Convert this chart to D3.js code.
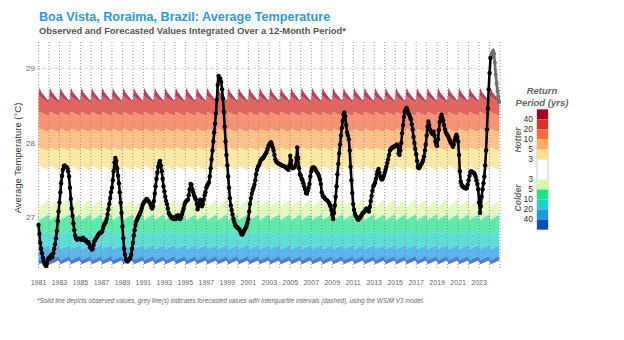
<!DOCTYPE html>
<html>
<head>
<meta charset="utf-8">
<script src="https://cdn.jsdelivr.net/npm/d3@7.9.0/dist/d3.min.js"></script>
<style>
  body { margin: 0; background: #fff; }
  svg { display: block; font-family: "Liberation Sans", Arial, sans-serif; }
</style>
</head>
<body>
<svg id="chart" width="624" height="340"></svg>
<script>
// 12-month integrated average temperature (deg C), one value per month from Jan 1981
const firstYear = 1981;
const observed = [
  26.90, 26.78, 26.66, 26.58, 26.52, 26.46, 26.41, 26.38, 26.36, 26.35, 26.39, 26.44, // 1981
  26.46, 26.45, 26.48, 26.50, 26.47, 26.52, 26.58, 26.64, 26.72, 26.82, 26.95, 27.08, // 1982
  27.20, 27.34, 27.46, 27.56, 27.64, 27.69, 27.70, 27.68, 27.68, 27.66, 27.62, 27.55, // 1983
  27.40, 27.25, 27.12, 27.02, 26.92, 26.83, 26.76, 26.72, 26.70, 26.71, 26.72, 26.71, // 1984
  26.71, 26.70, 26.72, 26.73, 26.71, 26.69, 26.70, 26.68, 26.66, 26.67, 26.64, 26.60, // 1985
  26.60, 26.57, 26.58, 26.63, 26.68, 26.70, 26.72, 26.74, 26.76, 26.78, 26.79, 26.80, // 1986
  26.80, 26.82, 26.86, 26.90, 26.92, 26.94, 26.98, 27.04, 27.11, 27.18, 27.26, 27.34, // 1987
  27.40, 27.50, 27.62, 27.74, 27.80, 27.76, 27.66, 27.56, 27.46, 27.34, 27.20, 27.06, // 1988
  26.88, 26.72, 26.58, 26.50, 26.44, 26.42, 26.41, 26.43, 26.44, 26.46, 26.50, 26.58, // 1989
  26.66, 26.76, 26.83, 26.90, 26.95, 26.98, 27.00, 27.03, 27.05, 27.08, 27.12, 27.16, // 1990
  27.19, 27.21, 27.22, 27.24, 27.25, 27.23, 27.22, 27.20, 27.18, 27.14, 27.12, 27.15, // 1991
  27.22, 27.32, 27.42, 27.52, 27.60, 27.68, 27.73, 27.76, 27.70, 27.62, 27.52, 27.42, // 1992
  27.35, 27.28, 27.22, 27.18, 27.12, 27.06, 27.04, 27.02, 27.00, 26.99, 27.00, 26.98, // 1993
  27.00, 26.98, 27.02, 27.00, 27.03, 26.99, 26.98, 27.00, 27.04, 27.08, 27.12, 27.17, // 1994
  27.20, 27.22, 27.23, 27.24, 27.30, 27.38, 27.45, 27.44, 27.38, 27.34, 27.30, 27.27, // 1995
  27.24, 27.18, 27.11, 27.15, 27.20, 27.24, 27.20, 27.15, 27.18, 27.24, 27.30, 27.34, // 1996
  27.40, 27.43, 27.45, 27.47, 27.55, 27.66, 27.78, 27.90, 28.02, 28.14, 28.26, 28.40, // 1997
  28.58, 28.78, 28.90, 28.88, 28.86, 28.82, 28.72, 28.60, 28.42, 28.22, 28.02, 27.84, // 1998
  27.70, 27.55, 27.40, 27.26, 27.16, 27.10, 27.04, 26.98, 26.94, 26.90, 26.88, 26.87, // 1999
  26.86, 26.85, 26.84, 26.81, 26.78, 26.77, 26.79, 26.82, 26.84, 26.86, 26.89, 26.93, // 2000
  26.98, 27.08, 27.18, 27.26, 27.32, 27.37, 27.40, 27.44, 27.50, 27.58, 27.64, 27.68, // 2001
  27.70, 27.73, 27.76, 27.78, 27.79, 27.80, 27.82, 27.84, 27.86, 27.88, 27.92, 27.96, // 2002
  27.98, 28.00, 28.01, 27.98, 27.94, 27.90, 27.84, 27.78, 27.75, 27.74, 27.73, 27.72, // 2003
  27.72, 27.71, 27.70, 27.70, 27.69, 27.69, 27.68, 27.67, 27.66, 27.65, 27.64, 27.70, // 2004
  27.83, 27.76, 27.68, 27.66, 27.67, 27.68, 27.70, 27.80, 27.94, 27.80, 27.66, 27.58, // 2005
  27.56, 27.52, 27.50, 27.46, 27.42, 27.38, 27.33, 27.32, 27.36, 27.40, 27.45, 27.55, // 2006
  27.62, 27.66, 27.67, 27.67, 27.66, 27.64, 27.62, 27.60, 27.58, 27.55, 27.51, 27.45, // 2007
  27.34, 27.30, 27.28, 27.27, 27.25, 27.24, 27.23, 27.22, 27.20, 27.18, 27.15, 27.10, // 2008
  27.04, 26.98, 27.06, 27.16, 27.28, 27.42, 27.58, 27.72, 27.86, 27.98, 28.10, 28.20, // 2009
  28.30, 28.38, 28.41, 28.36, 28.24, 28.14, 28.10, 28.05, 27.90, 27.68, 27.50, 27.33, // 2010
  27.18, 27.10, 27.05, 27.02, 27.00, 26.98, 26.97, 26.99, 27.00, 27.02, 27.04, 27.06, // 2011
  27.07, 27.08, 27.10, 27.12, 27.11, 27.10, 27.08, 27.14, 27.22, 27.29, 27.36, 27.42, // 2012
  27.44, 27.47, 27.52, 27.58, 27.62, 27.65, 27.60, 27.55, 27.52, 27.51, 27.53, 27.56, // 2013
  27.60, 27.64, 27.68, 27.73, 27.78, 27.84, 27.90, 27.92, 27.93, 27.94, 27.95, 27.95, // 2014
  27.96, 27.97, 27.98, 27.96, 27.86, 27.84, 27.90, 28.00, 28.13, 28.24, 28.35, 28.42, // 2015
  28.45, 28.47, 28.44, 28.40, 28.38, 28.35, 28.32, 28.25, 28.18, 28.08, 28.00, 27.92, // 2016
  27.85, 27.76, 27.68, 27.66, 27.67, 27.70, 27.72, 27.74, 27.77, 27.82, 27.90, 27.98, // 2017
  28.10, 28.22, 28.29, 28.24, 28.18, 28.15, 28.13, 28.12, 28.15, 28.10, 28.02, 27.98, // 2018
  27.96, 28.05, 28.17, 28.28, 28.34, 28.38, 28.34, 28.30, 28.24, 28.18, 28.14, 28.12, // 2019
  28.10, 28.08, 28.05, 28.02, 28.00, 27.98, 27.95, 27.98, 28.04, 28.08, 28.11, 28.08, // 2020
  28.02, 27.84, 27.62, 27.48, 27.44, 27.42, 27.41, 27.40, 27.40, 27.39, 27.40, 27.44, // 2021
  27.50, 27.56, 27.61, 27.62, 27.61, 27.60, 27.60, 27.58, 27.55, 27.50, 27.45, 27.38, // 2022
  27.20, 27.06, 27.15, 27.28, 27.38, 27.46, 27.55, 27.70, 27.90, 28.18, 28.46, 28.72, // 2023
  28.94, 29.14                                                                        // 2024
];

// forecast from Feb 2024 (median and interquartile range)
const forecastStart = new Date(2024, 1, 1);
const forecast     = [29.14, 29.18, 29.21, 29.23, 29.20, 29.08, 28.92, 28.80, 28.70, 28.62, 28.55];
const forecastHigh = [29.14, 29.21, 29.25, 29.27, 29.25, 29.14, 28.99, 28.88, 28.79, 28.72, 28.66];
const forecastLow  = [29.14, 29.15, 29.17, 29.19, 29.15, 29.02, 28.85, 28.72, 28.61, 28.52, 28.45];

// return-period thresholds by calendar month, Jan..Dec
const hotTop  = [28.60, 28.74, 28.72, 28.69, 28.67, 28.66, 28.64, 28.63, 28.61, 28.60, 28.58, 28.57];
const hot40   = [28.56, 28.63, 28.62, 28.61, 28.60, 28.59, 28.58, 28.57, 28.57, 28.56, 28.55, 28.55];
const hot20   = [28.38, 28.42, 28.42, 28.41, 28.40, 28.40, 28.39, 28.39, 28.38, 28.38, 28.37, 28.37];
const hot10   = [28.16, 28.19, 28.19, 28.18, 28.18, 28.17, 28.17, 28.16, 28.16, 28.16, 28.15, 28.15];
const hot5    = [27.91, 27.94, 27.94, 27.93, 27.93, 27.92, 27.92, 27.91, 27.91, 27.91, 27.90, 27.90];
const hot3    = [27.64, 27.70, 27.69, 27.68, 27.68, 27.67, 27.66, 27.66, 27.65, 27.64, 27.64, 27.63];
const cold3   = [27.22, 27.13, 27.14, 27.15, 27.17, 27.18, 27.19, 27.20, 27.21, 27.22, 27.23, 27.24];
const cold5   = [27.03, 26.96, 26.97, 26.98, 26.99, 26.99, 27.00, 27.01, 27.02, 27.02, 27.03, 27.04];
const cold10  = [26.82, 26.76, 26.77, 26.77, 26.78, 26.79, 26.79, 26.80, 26.81, 26.81, 26.82, 26.83];
const cold20  = [26.62, 26.57, 26.58, 26.58, 26.59, 26.59, 26.60, 26.60, 26.61, 26.61, 26.62, 26.63];
const cold40  = [26.47, 26.43, 26.43, 26.44, 26.44, 26.45, 26.45, 26.46, 26.46, 26.47, 26.47, 26.48];
const coldBot = [26.41, 26.37, 26.38, 26.38, 26.39, 26.39, 26.40, 26.40, 26.41, 26.41, 26.42, 26.42];

const hotColors  = ['#a50026', '#d73027', '#f46d43', '#fdae61', '#fee08b'];
const coldColors = ['#d9f7a8', '#1ee38a', '#1dd3c6', '#1a98e0', '#0b4bc0'];
const hotLabels  = ['40', '20', '10', '5', '3'];
const coldLabels = ['3', '5', '10', '20', '40'];
const yTicks = [27, 28, 29];

const svg = d3.select('#chart');
svg.append('rect').attr('width', 624).attr('height', 340).attr('fill', '#fff');

const x = d3.scaleTime()
  .domain([new Date(1981, 0, 1), new Date(2025, 0, 1)])
  .range([38.5, 500.1]);
const y = d3.scaleLinear().domain([26.3, 29.35]).range([269.65, 42.4]);

const months = d3.timeMonths(new Date(1981, 0, 1), new Date(2025, 0, 1));

// ---- return-period bands, repeated for every year ----
const area = d3.area()
  .x(d => x(d.date))
  .y0(d => y(d.lo))
  .y1(d => y(d.hi));

function band(hi, lo) {
  return months.map(date => ({ date, hi: hi[date.getMonth()], lo: lo[date.getMonth()] }));
}

const hotEdges = [hotTop, hot40, hot20, hot10, hot5, hot3];
const coldEdges = [cold3, cold5, cold10, cold20, cold40, coldBot];
const bands = svg.append('g').attr('class', 'bands');
hotColors.forEach((c, i) => {
  bands.append('path').attr('d', area(band(hotEdges[i], hotEdges[i + 1])))
    .attr('fill', c).attr('fill-opacity', 0.75);
});
coldColors.forEach((c, i) => {
  bands.append('path').attr('d', area(band(coldEdges[i], coldEdges[i + 1])))
    .attr('fill', c).attr('fill-opacity', 0.72);
});

// ---- grid ----
const grid = svg.append('g');
yTicks.forEach(t => {
  grid.append('line')
    .attr('x1', 37).attr('x2', 500).attr('y1', y(t)).attr('y2', y(t))
    .attr('stroke', '#d0d0d0').attr('stroke-width', 0.8).attr('stroke-dasharray', '3,3');
});
d3.timeYears(new Date(1981, 0, 1), new Date(2025, 0, 2)).forEach(d => {
  grid.append('line')
    .attr('x1', x(d)).attr('x2', x(d)).attr('y1', 42).attr('y2', 269)
    .attr('stroke', '#8a8a8a').attr('stroke-width', 0.9).attr('stroke-dasharray', '1,2');
});

// ---- axes ----
const yAxis = svg.append('g').attr('font-size', 8).attr('fill', '#666');
yTicks.forEach(t => {
  yAxis.append('text').attr('x', 35).attr('y', y(t)).attr('dy', '0.35em')
    .attr('text-anchor', 'end').text(t);
});
const xAxis = svg.append('g').attr('font-size', 7).attr('fill', '#666');
d3.timeYears(new Date(1981, 0, 1), new Date(2024, 0, 1), 2).forEach(d => {
  xAxis.append('text').attr('x', x(d)).attr('y', 285)
    .attr('text-anchor', 'middle').text(d.getFullYear());
});

svg.append('text')
  .attr('transform', 'translate(21,158) rotate(-90)')
  .attr('text-anchor', 'middle').attr('font-size', 9.5).attr('fill', '#333')
  .text('Average Temperature (°C)');

// ---- forecast ----
const fcDates = forecast.map((_, i) => d3.timeMonth.offset(forecastStart, i));
const line = d3.line().x(d => x(d[0])).y(d => y(d[1]));
const fc = svg.append('g');
[forecastHigh, forecastLow].forEach(s => {
  fc.append('path').attr('d', line(s.map((v, i) => [fcDates[i], v])))
    .attr('fill', 'none').attr('stroke', '#7a7f86').attr('stroke-width', 1.4)
    .attr('stroke-dasharray', '2,1.5');
});
const fcPts = forecast.map((v, i) => [fcDates[i], v]);
fc.append('path').attr('d', line(fcPts))
  .attr('fill', 'none').attr('stroke', '#6b7078').attr('stroke-width', 2.6);
fc.selectAll('circle').data(fcPts).join('circle')
  .attr('cx', d => x(d[0])).attr('cy', d => y(d[1])).attr('r', 2).attr('fill', '#6b7078');

// ---- observed ----
const obsPts = observed.map((v, i) => [new Date(firstYear, i, 1), v]);
const obs = svg.append('g');
obs.append('path').attr('d', line(obsPts))
  .attr('fill', 'none').attr('stroke', '#000').attr('stroke-width', 2.6)
  .attr('stroke-linejoin', 'round');
obs.selectAll('circle').data(obsPts).join('circle')
  .attr('cx', d => x(d[0])).attr('cy', d => y(d[1])).attr('r', 2.2).attr('fill', '#000');

// ---- titles ----
svg.append('text').attr('x', 39).attr('y', 21)
  .attr('font-size', 12.6).attr('font-weight', 'bold').attr('fill', '#2d9bd5')
  .text('Boa Vista, Roraima, Brazil: Average Temperature');
svg.append('text').attr('x', 39).attr('y', 33.5)
  .attr('font-size', 9.4).attr('font-weight', 'bold').attr('fill', '#555')
  .text('Observed and Forecasted Values Integrated Over a 12-Month Period*');
svg.append('text').attr('x', 37).attr('y', 303)
  .attr('font-size', 6.3).attr('font-style', 'italic').attr('fill', '#666')
  .text('*Solid line depicts observed values, grey line(s) indicates forecasted values with interquartile intervals (dashed), using the WSIM V3 model.');

// ---- legend ----
const lg = svg.append('g');
lg.append('text').attr('x', 542).attr('y', 94).attr('text-anchor', 'middle')
  .attr('font-size', 9.5).attr('font-style', 'italic').attr('font-weight', 'bold').attr('fill', '#666')
  .text('Return');
lg.append('text').attr('x', 542).attr('y', 106).attr('text-anchor', 'middle')
  .attr('font-size', 9.5).attr('font-style', 'italic').attr('font-weight', 'bold').attr('fill', '#666')
  .text('Period (yrs)');

const cellH = 10, boxX = 537, boxW = 11;
const hotTopY = 109.5;
const whiteY = hotTopY + hotColors.length * cellH;
const coldTopY = whiteY + 20;
lg.append('rect').attr('x', boxX).attr('y', hotTopY).attr('width', boxW)
  .attr('height', coldTopY + coldColors.length * cellH - hotTopY)
  .attr('fill', '#fff').attr('stroke', '#bbb').attr('stroke-width', 0.8);
hotColors.forEach((c, i) => {
  lg.append('rect').attr('x', boxX).attr('y', hotTopY + i * cellH).attr('width', boxW).attr('height', cellH).attr('fill', c);
  lg.append('text').attr('x', 533).attr('y', hotTopY + (i + 1) * cellH).attr('dy', '0.35em')
    .attr('text-anchor', 'end').attr('font-size', 8.5).attr('fill', '#333').text(hotLabels[i]);
});
coldColors.forEach((c, i) => {
  lg.append('rect').attr('x', boxX).attr('y', coldTopY + i * cellH).attr('width', boxW).attr('height', cellH).attr('fill', c);
  lg.append('text').attr('x', 533).attr('y', coldTopY + i * cellH).attr('dy', '0.35em')
    .attr('text-anchor', 'end').attr('font-size', 8.5).attr('fill', '#333').text(coldLabels[i]);
});
lg.append('text').attr('transform', 'translate(521,140) rotate(-90)').attr('text-anchor', 'middle')
  .attr('font-size', 8.5).attr('font-style', 'italic').attr('font-weight', 'bold').attr('fill', '#666')
  .text('Hotter');
lg.append('text').attr('transform', 'translate(521,198) rotate(-90)').attr('text-anchor', 'middle')
  .attr('font-size', 8.5).attr('font-style', 'italic').attr('font-weight', 'bold').attr('fill', '#666')
  .text('Colder');
</script>
</body>
</html>
